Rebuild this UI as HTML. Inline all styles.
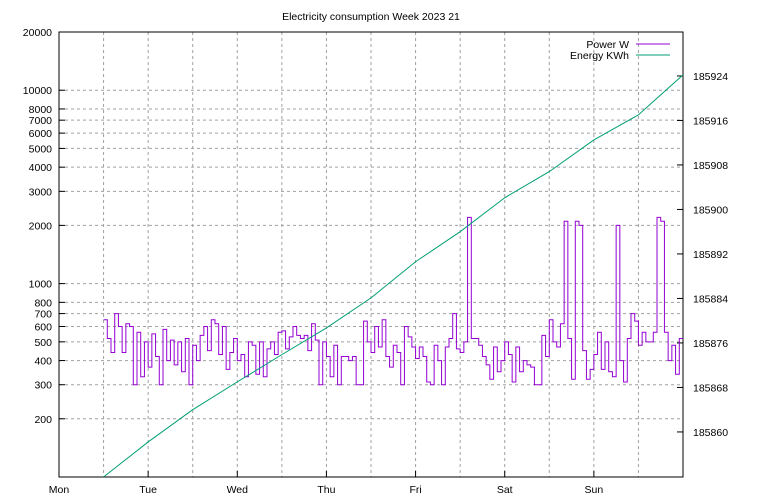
<!DOCTYPE html>
<html><head><meta charset="utf-8"><style>
body{margin:0;background:#fff}
svg{display:block;font-family:"Liberation Sans",sans-serif;font-size:10.5px}
</style></head><body>
<svg id="c" width="768" height="500"></svg>
<script>
const dayLabels=["Mon","Tue","Wed","Thu","Fri","Sat","Sun"];
const leftTicks=[200,300,400,500,600,700,800,1000,2000,3000,4000,5000,6000,7000,8000,10000,20000];
const rightTicks=[185860,185868,185876,185884,185892,185900,185908,185916,185924];
// power W, hourly from Mon 12:00
const powerValues=[650,520,440,700,600,440,620,600,300,560,330,500,
370,550,420,300,580,400,510,380,500,350,520,300,480,400,540,600,450,650,620,430,600,360,440,520,
400,430,330,500,480,340,500,330,460,500,430,560,570,460,530,600,540,520,540,450,620,510,300,500,
420,330,480,300,420,420,400,420,300,300,640,500,440,600,470,650,420,370,480,440,300,600,530,470,
410,470,420,310,300,480,400,300,470,520,700,460,440,500,2200,520,520,480,420,380,320,470,350,400,
500,430,310,470,350,400,380,370,300,300,540,420,650,500,470,620,2100,520,320,2100,2000,450,320,360,
430,560,360,500,350,330,2000,400,310,520,700,640,480,560,500,500,560,2200,2100,560,400,480,340,520];
// energy KWh, every 12h from Mon 12:00
const energyValues=[185851.9,185858.2,185864,185869,185873.9,185878.7,185884.1,185890.6,185896,185902.1,185906.8,185912.5,185917,185924.2];

const L=59,R=683,T=32,B=477;
const xs=h=>L+(R-L)*h/168;
const yl=v=>B-(B-T)*(Math.log10(v)-2)/(Math.log10(20000)-2);
const yr=v=>B-(B-T)*(v-185851.9)/(185931.9-185851.9);
const svg=document.getElementById('c');
const NS='http://www.w3.org/2000/svg';
function mk(t,a,txt){const e=document.createElementNS(NS,t);for(const k in a)e.setAttribute(k,a[k]);if(txt!=null)e.textContent=txt;svg.appendChild(e);return e;}
for(const v of leftTicks){if(v===20000)continue;
const g=mk('line',{x1:L,x2:R,y1:yl(v),y2:yl(v),stroke:'#a0a0a0','stroke-dasharray':'3,3'});

}
for(let h=12;h<168;h+=12){
const g=mk('line',{x1:xs(h),x2:xs(h),y1:T,y2:B,stroke:'#a0a0a0','stroke-dasharray':'3,3'});

}
const fr=mk('rect',{x:L,y:T,width:R-L,height:B-T,fill:'none',stroke:'#000'});


for(const v of leftTicks){const y=yl(v);
mk('line',{x1:L,x2:L+6,y1:y,y2:y,stroke:'#000'});
const t=mk('text',{x:L-7,y:y+4,'text-anchor':'end'},v);

}
for(const v of rightTicks){const y=yr(v);
mk('line',{x1:R-6,x2:R,y1:y,y2:y,stroke:'#000'});
const t=mk('text',{x:R+10,y:y+4},v);

}
dayLabels.forEach((d,i)=>{const x=xs(i*24);
mk('line',{x1:x,x2:x,y1:B,y2:B-6,stroke:'#000'});
const t=mk('text',{x:x,y:B+16,'text-anchor':'middle'},d);

});
let p='';powerValues.forEach((v,i)=>{const x0=xs(12+i),x1=xs(13+i),y=yl(v);p+=(i?'L':'M')+x0+','+y+'L'+x1+','+y;});
const pw=mk('path',{d:p,fill:'none',stroke:'#9400d3','stroke-width':1});


let e='';energyValues.forEach((v,i)=>{e+=(i?'L':'M')+xs(12+12*i)+','+yr(v);});
const en=mk('path',{d:e,fill:'none',stroke:'#009e73','stroke-width':1});


const ti=mk('text',{x:371,y:20,'text-anchor':'middle'},'Electricity consumption Week 2023 21');


const l1=mk('text',{x:629,y:48,'text-anchor':'end'},'Power W');


mk('line',{x1:636,x2:670,y1:44,y2:44,stroke:'#9400d3'});
const l2=mk('text',{x:629,y:59,'text-anchor':'end'},'Energy KWh');


mk('line',{x1:636,x2:670,y1:55,y2:55,stroke:'#009e73'});
</script>
</body></html>
